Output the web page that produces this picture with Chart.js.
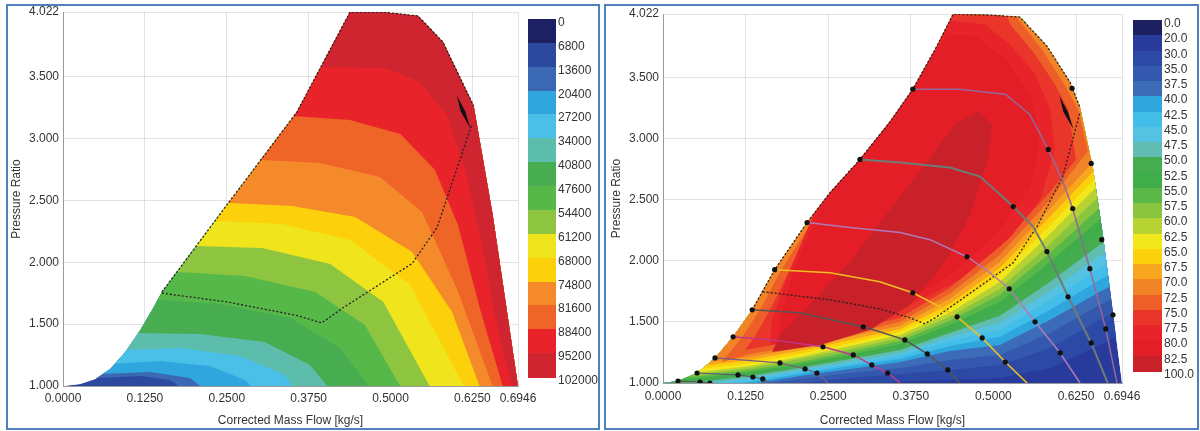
<!DOCTYPE html>
<html lang="en">
<head>
<meta charset="UTF-8">
<title>Compressor maps</title>
<script src="https://cdn.jsdelivr.net/npm/chart.js"></script>
<style>
  body { margin:0; width:1200px; height:431px; position:relative; overflow:hidden; background:#fff;
         font-family:'Liberation Sans', Arial, sans-serif; color:#333; }
  .frame { position:absolute; border:2px solid #4f81bd; box-sizing:border-box; }
  .cv { position:absolute; top:0; width:600px; height:431px; }
  .sw { position:absolute; }
  .lb { position:absolute; font-size:12px; line-height:12px; color:#333; white-space:nowrap; }
</style>
</head>
<body>
<div class="frame" style="left:6px;top:4px;width:594px;height:426px"></div>
<div class="frame" style="left:604px;top:4px;width:595px;height:426px"></div>
<div class="cv" style="left:0"><canvas id="speedMap"></canvas></div>
<div class="cv" style="left:600px"><canvas id="effMap"></canvas></div>
<div id="legends"></div>

<script>
// ---- axes / legends ----
const xTicks = [0, 0.125, 0.25, 0.375, 0.5, 0.625, 0.6946];
const yTicks = [1.0, 1.5, 2.0, 2.5, 3.0, 3.5, 4.022];

const speedLabels = ['0','6800','13600','20400','27200','34000','40800','47600','54400',
                     '61200','68000','74800','81600','88400','95200','102000'];
const speedColors = ['#1d2163','#2c49a0','#3a68b3','#2fa7de','#4ac0e9','#5dbdad','#48ad50','#56b848',
                     '#8dc540','#f0e51d','#fcd10b','#f58a2a','#ef6528','#e8242a','#ce2530'];

const effLabels = ['0.0','20.0','30.0','35.0','37.5','40.0','42.5','45.0','47.5','50.0','52.5','55.0',
                   '57.5','60.0','62.5','65.0','67.5','70.0','72.5','75.0','77.5','80.0','82.5','100.0'];
const effColors = ['#1d2060','#283a9c','#2c49a6','#3358ad','#3c6cb7','#2fa7de','#43bee9','#55c2e2',
                   '#61bcb2','#45ad4f','#3fae4a','#59b847','#8bc53f','#b7d333','#f1e71b','#fcd10b',
                   '#f8a51f','#f28428','#ee5e28','#e9352a','#e8232a','#e31e26','#c82129'];

// ---- left map: envelope, speed contours ----
const envL = [[0,1.0],[0.026,1.016],[0.049,1.057],[0.072,1.137],[0.095,1.275],[0.118,1.452],
              [0.136,1.614],[0.151,1.759],[0.250,2.462],[0.357,3.213],[0.438,4.02],[0.49,4.02],
              [0.542,3.99],[0.580,3.779],[0.627,3.262],[0.656,2.381],[0.6946,1.0]];

const spd13600 = [[-0.035,1.032],[0.0565,1.065],[0.1176,1.081],[0.163,1.048],[0.186,0.968]];
const spd20400 = [[-0.035,1.048],[0.0565,1.097],[0.1328,1.113],[0.194,1.065],[0.217,0.968]];
const spd27200 = [[-0.035,1.162],[0.0718,1.178],[0.148,1.202],[0.224,1.162],[0.278,1.048],[0.293,0.968]];
const spd34000 = [[-0.035,1.291],[0.087,1.291],[0.179,1.307],[0.270,1.242],[0.339,1.089],[0.354,0.968]];
const spd40800 = [[-0.035,1.428],[0.113,1.428],[0.209,1.420],[0.308,1.355],[0.377,1.170],[0.408,0.968]];
const spd47600 = [[-0.035,1.695],[0.145,1.695],[0.240,1.662],[0.347,1.549],[0.423,1.307],[0.472,0.968]];
const spd54400 = [[-0.035,1.921],[0.174,1.921],[0.278,1.889],[0.385,1.759],[0.461,1.493],[0.518,0.968]];
const spd61200 = [[-0.035,2.131],[0.205,2.131],[0.304,2.115],[0.408,1.985],[0.489,1.679],[0.563,0.968]];
const spd68000 = [[-0.035,2.333],[0.234,2.333],[0.334,2.309],[0.438,2.179],[0.530,1.816],[0.615,0.968]];
const spd74800 = [[-0.035,2.478],[0.253,2.478],[0.350,2.454],[0.446,2.365],[0.533,2.082],[0.594,1.598],[0.638,0.968]];
const spd81600 = [[-0.035,2.826],[0.304,2.826],[0.392,2.801],[0.484,2.688],[0.548,2.405],[0.602,1.775],[0.658,0.968]];
const spd88400 = [[-0.035,3.181],[0.350,3.181],[0.438,3.149],[0.515,3.036],[0.568,2.745],[0.603,2.300],[0.637,1.614],[0.673,0.968]];
const spd95200 = [[-0.035,3.577],[0.395,3.577],[0.492,3.569],[0.545,3.456],[0.586,3.189],[0.614,2.745],[0.638,2.179],[0.664,1.452],[0.687,0.968]];

const opLineL = [[0.151,1.75],[0.25,1.68],[0.357,1.57],[0.395,1.51],[0.427,1.63],[0.533,1.99],[0.571,2.28],[0.624,3.11]];
const lensL = [[0.601,3.35],[0.614,3.22],[0.622,3.08],[0.607,3.22]];

// ---- right map: envelope, efficiency contours ----
const envR = [[0,1],[0.0227,1.016],[0.0515,1.082],[0.0787,1.205],[0.106,1.378],[0.135,1.599],
              [0.169,1.928],[0.218,2.314],[0.253,2.560],[0.298,2.831],[0.344,3.143],[0.378,3.406],
              [0.412,3.734],[0.439,4.02],[0.495,4.013],[0.540,3.997],[0.581,3.759],[0.616,3.463],
              [0.631,3.258],[0.651,2.749],[0.666,2.199],[0.681,1.575],[0.6946,1.0]];

// lower edge of each efficiency level, sampled at effX
const effX    = [-0.035, 0.056, 0.132, 0.207, 0.283, 0.359, 0.434, 0.510, 0.586, 0.661, 0.737];
const eff30   = [0.943,0.943,0.943,0.959,0.984,1.008,1.025,1.041,1.123,1.312,1.517];
const eff35   = [0.943,0.943,0.959,1.000,1.041,1.074,1.107,1.148,1.287,1.517,1.722];
const eff375  = [0.943,0.943,0.975,1.033,1.082,1.123,1.189,1.230,1.410,1.640,1.846];
const eff40   = [0.943,0.943,0.992,1.057,1.115,1.172,1.263,1.312,1.517,1.747,1.952];
const eff425  = [0.943,0.959,1.008,1.074,1.140,1.197,1.304,1.378,1.599,1.846,2.051];
const eff45   = [0.943,0.975,1.025,1.090,1.156,1.222,1.345,1.435,1.681,1.944,2.149];
const eff475  = [0.967,0.992,1.041,1.107,1.172,1.246,1.378,1.493,1.755,2.043,2.248];
const eff50   = [0.984,1.008,1.057,1.123,1.197,1.271,1.410,1.550,1.829,2.133,2.338];
const eff525  = [1.000,1.025,1.074,1.140,1.213,1.296,1.443,1.608,1.911,2.240,2.445];
const eff55   = [1.008,1.041,1.090,1.156,1.230,1.320,1.476,1.665,1.993,2.338,2.544];
const eff575  = [1.016,1.057,1.107,1.172,1.254,1.345,1.509,1.722,2.067,2.437,2.642];
const eff60   = [1.025,1.074,1.123,1.197,1.279,1.369,1.542,1.772,2.141,2.535,2.741];
const eff625  = [1.041,1.090,1.140,1.213,1.304,1.394,1.575,1.829,2.223,2.634,2.839];
const eff65   = [1.057,1.115,1.164,1.238,1.328,1.419,1.608,1.887,2.289,2.716,2.921];
const eff675  = [1.074,1.140,1.189,1.263,1.353,1.443,1.649,1.944,2.363,2.790,2.995];
const eff70   = [1.090,1.164,1.213,1.287,1.378,1.468,1.690,1.993,2.429,2.872];
const eff70top = [[0.658,2.913],[0.639,3.241],[0.619,3.447],[0.586,3.734],[0.548,3.997],[0.533,4.309]];
const eff725  = [[-0.095,4.31],[-0.095,2.461],[0.225,2.314],[0.179,1.928],[0.147,1.599],[0.120,1.378],
                 [0.094,1.205],[0.089,1.172],[0.132,1.238],[0.207,1.312],[0.283,1.402],[0.359,1.501],
                 [0.434,1.731],[0.510,2.051],[0.586,2.502],[0.643,2.897],[0.628,3.241],
                 [0.607,3.447],[0.575,3.718],[0.537,3.981],[0.522,4.309]];
const eff75   = [[-0.095,4.31],[-0.095,2.585],[0.238,2.379],[0.192,1.928],[0.162,1.599],[0.139,1.378],
                 [0.124,1.271],[0.207,1.353],[0.283,1.435],[0.359,1.534],[0.434,1.780],[0.510,2.117],
                 [0.586,2.568],[0.625,2.831],[0.613,3.241],[0.593,3.447],[0.563,3.693],
                 [0.525,3.939],[0.502,4.309]];
const eff775  = [[0.162,1.312],[0.253,1.435],[0.359,1.599],[0.449,1.846],[0.525,2.190],[0.571,2.502],
                 [0.593,2.913],[0.586,3.241],[0.563,3.528],[0.525,3.775],[0.487,3.939],[0.419,3.980],
                 [0.359,3.488],[0.298,3.077],[0.238,2.502],[0.192,1.928],[0.165,1.517]];
const eff80   = [[0.175,1.35],[0.26,1.47],[0.36,1.65],[0.44,1.90],[0.51,2.25],[0.555,2.6],[0.57,2.95],
                 [0.56,3.3],[0.52,3.65],[0.47,3.85],[0.43,3.85],[0.37,3.4],[0.30,2.95],[0.24,2.45],
                 [0.20,1.95],[0.178,1.55]];
const eff825  = [[0.165,1.254],[0.238,1.312],[0.313,1.435],[0.374,1.640],[0.427,1.993],[0.465,2.379],
                 [0.492,2.831],[0.498,3.118],[0.477,3.225],[0.442,3.118],[0.396,2.790],[0.344,2.420],
                 [0.283,1.993],[0.222,1.640],[0.177,1.394]];

// speed lines with test points (third value 1 = measured point marker)
const spdLineA = [[0.378,3.406,1],[0.449,3.406,0],[0.518,3.365,0],[0.555,3.200,0],[0.583,2.913,1],
                  [0.604,2.666,0],[0.620,2.429,1],[0.646,1.936,1],[0.670,1.443,1],[0.687,1.0,0]];
const spdLineB = [[0.298,2.831,1],[0.359,2.806,0],[0.434,2.765,0],[0.480,2.691,0],[0.530,2.445,1],
                  [0.560,2.281,0],[0.581,2.076,1],[0.613,1.706,1],[0.648,1.328,1],[0.673,1.0,0]];
const spdLineC = [[0.218,2.314,1],[0.283,2.273,0],[0.359,2.232,0],[0.404,2.174,0],[0.460,2.034,1],
                  [0.495,1.903,0],[0.524,1.772,1],[0.563,1.501,1],[0.601,1.246,1],[0.631,1.0,0]];
const spdLineD = [[0.169,1.928,1],[0.253,1.903,0],[0.328,1.829,0],[0.378,1.739,1],[0.419,1.624,0],
                  [0.445,1.542,1],[0.483,1.369,1],[0.518,1.172,1],[0.551,1.0,0]];
const spdLineE = [[0.135,1.599,1],[0.207,1.575,0],[0.303,1.460,1],[0.328,1.419,0],[0.366,1.353,1],
                  [0.400,1.238,1],[0.431,1.107,1],[0.449,1.0,0]];
const spdLineF = [[0.106,1.378,1],[0.177,1.345,0],[0.242,1.296,1],[0.288,1.230,1],[0.316,1.148,1],
                  [0.340,1.082,1],[0.359,1.0,0]];
const spdLineG = [[0.0787,1.205,1],[0.177,1.164,1],[0.215,1.115,1],[0.233,1.082,1],[0.250,1.0,0]];
const spdLineH = [[0.0515,1.082,1],[0.1135,1.066,1],[0.136,1.049,1],[0.151,1.033,1],[0.162,1.0,0]];
const spdLineI = [[0.0227,1.016,1],[0.056,1.008,1],[0.071,1.0,1]];
const chokePts = [[0.619,3.414,1],[0.648,2.798,1],[0.664,2.174,1],[0.681,1.558,1]];

const opLineR = [[0.151,1.747],[0.253,1.681],[0.328,1.607],[0.374,1.534],[0.396,1.485],[0.412,1.534],
                 [0.530,1.985],[0.566,2.281],[0.605,2.691],[0.631,3.217]];
const lensR = [[0.600,3.35],[0.613,3.22],[0.621,3.08],[0.606,3.22]];

// ---- helpers ----
Chart.defaults.font.family = "'Liberation Sans', Arial, sans-serif";
Chart.defaults.font.size = 12;
Chart.defaults.color = '#333';

const xy = pts => pts.map(p => ({x: p[0], y: p[1], m: p[2]}));

// region above/right of a contour line
function aboveLine(pts) {
  const last = pts[pts.length - 1];
  return pts.concat([[0.80, last[1]], [0.80, 4.4], [-0.06, 4.4], [-0.06, pts[0][1]]]);
}
const zipEff = ys => effX.slice(0, ys.length).map((x, i) => [x, ys[i]]);

function fillSet(pts, color, order) {
  return { data: xy(pts), showLine: true, fill: 'shape', backgroundColor: color,
           borderWidth: 0, pointRadius: 0, tension: 0, order: order, envClip: true };
}
function lineSet(pts, color, width, dash) {
  return { data: xy(pts), showLine: true, fill: false, borderColor: color, borderWidth: width,
           borderDash: dash || [], tension: 0, order: 0,
           pointRadius: c => (c.raw && c.raw.m) ? 2.6 : 0,
           pointBackgroundColor: '#111', pointBorderWidth: 0 };
}

// clip the contour fills to the map envelope
function envelopeClip(env) {
  let clipped = false;
  return {
    id: 'envClip',
    beforeDatasetsDraw(chart) {
      const {ctx, scales: {x, y}} = chart;
      ctx.save();
      ctx.beginPath();
      env.forEach((p, i) => {
        const px = x.getPixelForValue(p[0]), py = y.getPixelForValue(p[1]);
        if (i) ctx.lineTo(px, py); else ctx.moveTo(px, py);
      });
      ctx.closePath();
      ctx.clip();
      clipped = true;
    },
    beforeDatasetDraw(chart, args) {
      if (clipped && !chart.data.datasets[args.index].envClip) {
        chart.ctx.restore();
        clipped = false;
      }
    },
    afterDatasetsDraw(chart) {
      if (clipped) { chart.ctx.restore(); clipped = false; }
    }
  };
}

function mapOptions(pad, xAxisH, tickPad) {
  const gridCol = 'rgba(200,200,200,0.5)';
  return {
    responsive: true, maintainAspectRatio: false, animation: false, events: [],
    layout: { padding: pad },
    plugins: { legend: { display: false }, tooltip: { enabled: false } },
    scales: {
      x: {
        type: 'linear', min: 0, max: 0.6946, z: 1,
        afterBuildTicks: s => { s.ticks = xTicks.map(v => ({value: v})); },
        afterFit: s => { s.height = xAxisH; },
        ticks: { autoSkip: false, maxRotation: 0, padding: tickPad, callback: v => Number(v).toFixed(4) },
        grid: { color: gridCol, drawTicks: false },
        border: { color: '#9a9a9a' },
        title: { display: true, text: 'Corrected Mass Flow [kg/s]', padding: {top: 0, bottom: 0} }
      },
      y: {
        type: 'linear', min: 1.0, max: 4.022, z: 1,
        afterBuildTicks: s => { s.ticks = yTicks.map(v => ({value: v})); },
        afterFit: s => { s.width = 63; },
        ticks: { autoSkip: false, padding: 4, callback: v => Number(v).toFixed(3) },
        grid: { color: gridCol, drawTicks: false },
        border: { color: '#9a9a9a' },
        title: { display: true, text: 'Pressure Ratio', padding: {top: 9, bottom: 0} }
      }
    }
  };
}

// ---- left chart: speed map ----
const speedLevels = [spd13600, spd20400, spd27200, spd34000, spd40800, spd47600, spd54400,
                     spd61200, spd68000, spd74800, spd81600, spd88400, spd95200];
const leftSets = [fillSet(envL, speedColors[1], 300)];
speedLevels.forEach((ln, i) => leftSets.push(fillSet(aboveLine(ln), speedColors[i + 2], 299 - i)));
leftSets.push(
  { data: xy(lensL), showLine: true, fill: 'shape', backgroundColor: '#111', borderWidth: 0, pointRadius: 0, order: 1 },
  lineSet(envL.slice(7, 15), '#222', 1.3, [2, 2]),
  lineSet(opLineL, '#222', 1.3, [2, 2])
);

new Chart(document.getElementById('speedMap'), {
  type: 'scatter',
  data: { datasets: leftSets },
  options: mapOptions({left: 0, top: 12, right: 82, bottom: 3}, 42, 5),
  plugins: [envelopeClip(envL)]
});

// ---- right chart: efficiency map ----
const effLower = [eff30, eff35, eff375, eff40, eff425, eff45, eff475, eff50, eff525, eff55, eff575,
                  eff60, eff625, eff65, eff675];
const rightSets = [fillSet(envR, effColors[1], 300)];
effLower.forEach((ys, i) => rightSets.push(fillSet(aboveLine(zipEff(ys)), effColors[i + 2], 299 - i)));
const r70 = zipEff(eff70).concat(eff70top, [[-0.06, 4.4], [-0.06, eff70[0]]]);
rightSets.push(
  fillSet(r70, effColors[17], 270),
  fillSet(eff725, effColors[18], 269),
  fillSet(eff75, effColors[19], 268),
  fillSet(eff775, effColors[20], 267),
  fillSet(eff80, effColors[21], 266),
  fillSet(eff825, effColors[22], 265),
  { data: xy(lensR), showLine: true, fill: 'shape', backgroundColor: '#111', borderWidth: 0, pointRadius: 0, order: 1 },
  lineSet(spdLineA, '#96679c', 1.5),
  lineSet(spdLineB, '#6d7c76', 2),
  lineSet(spdLineC, '#b07ab8', 1.5),
  lineSet(spdLineD, '#efc020', 1.6),
  lineSet(spdLineE, '#555555', 1.5),
  lineSet(spdLineF, '#c2368e', 1.5),
  lineSet(spdLineG, '#76607e', 1.3),
  lineSet(spdLineH, '#5a5a6a', 1.2),
  lineSet(spdLineI, '#555555', 1.2),
  Object.assign(lineSet(chokePts, '#000', 0), { showLine: false }),
  lineSet(envR.slice(5, 19), '#222', 1.3, [2, 2]),
  lineSet(opLineR, '#222', 1.3, [2, 2])
);

new Chart(document.getElementById('effMap'), {
  type: 'scatter',
  data: { datasets: rightSets },
  options: mapOptions({left: 0, top: 14, right: 78, bottom: 3}, 45, 6),
  plugins: [envelopeClip(envR)]
});

// ---- colour bars ----
function colorBar(colors, labels, left, top, w, h) {
  const box = document.getElementById('legends');
  colors.forEach((c, i) => {
    const d = document.createElement('div');
    d.className = 'sw';
    d.style.cssText = `left:${left}px;top:${top + i * h}px;width:${w}px;height:${h + 0.6}px;background:${c}`;
    box.appendChild(d);
  });
  labels.forEach((t, i) => {
    const s = document.createElement('div');
    s.className = 'lb';
    s.textContent = t;
    s.style.left = (left + w + 2) + 'px';
    s.style.top = (top + i * h - 3) + 'px';
    box.appendChild(s);
  });
}
colorBar(speedColors, speedLabels, 528, 19, 28, 23.87);
colorBar(effColors, effLabels, 1133, 20, 29, 15.26);
</script>
</body>
</html>
